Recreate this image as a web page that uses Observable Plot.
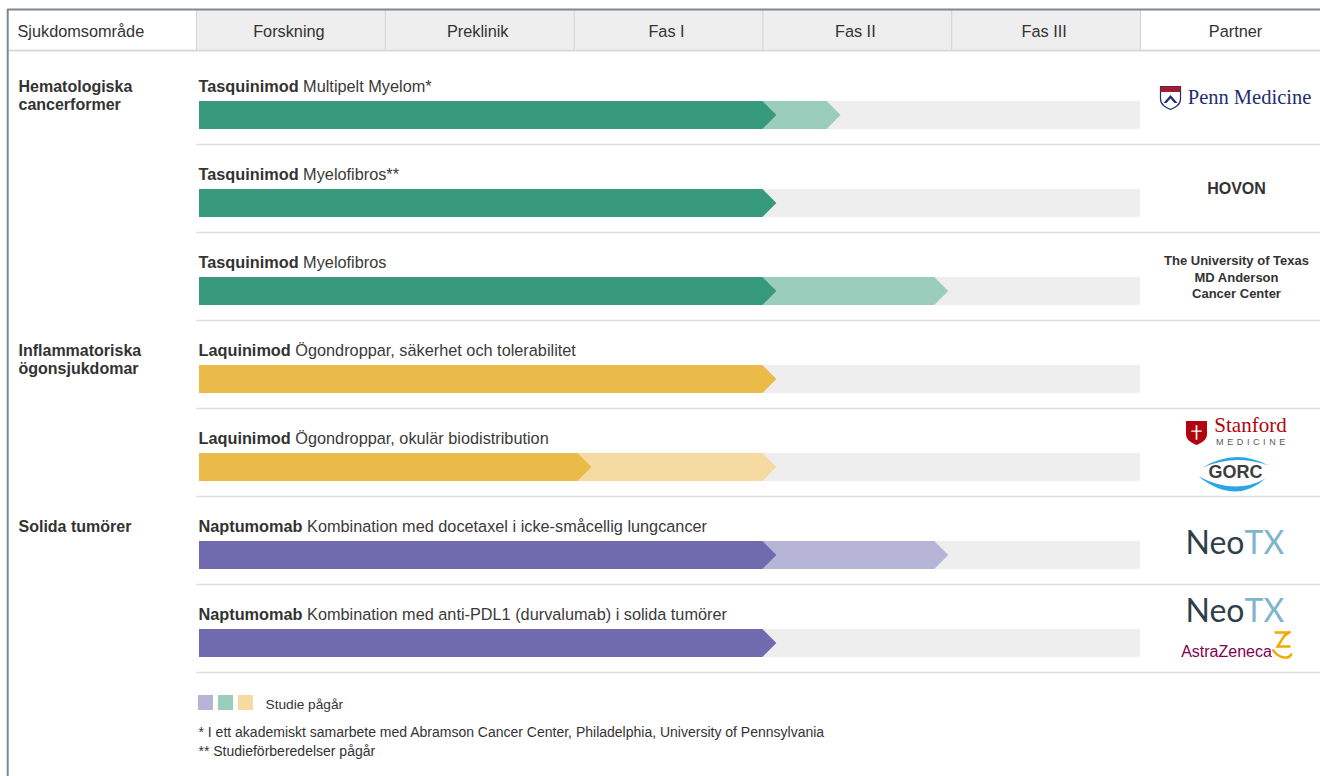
<!DOCTYPE html>
<html>
<head>
<meta charset="utf-8">
<script src="https://cdn.jsdelivr.net/npm/d3@7"></script>
<script src="https://cdn.jsdelivr.net/npm/@observablehq/plot@0.6"></script>
<style>
  body { margin: 0; background: #fff; }
  #chart svg { display: block; }
</style>
</head>
<body>
<div id="chart"></div>
<script>
// ---------------- DATA ----------------
const phases = ["Forskning", "Preklinik", "Fas I", "Fas II", "Fas III"];
const areaNames = [["Hematologiska", "cancerformer"], ["Inflammatoriska", "ögonsjukdomar"], ["Solida tumörer"]];
const areaRows = [0, 3, 5];
const drugs = ["Tasquinimod", "Tasquinimod", "Tasquinimod", "Laquinimod", "Laquinimod", "Naptumomab", "Naptumomab"];
const indications = [
  "Multipelt Myelom*",
  "Myelofibros**",
  "Myelofibros",
  "Ögondroppar, säkerhet och tolerabilitet",
  "Ögondroppar, okulär biodistribution",
  "Kombination med docetaxel i icke-småcellig lungcancer",
  "Kombination med anti-PDL1 (durvalumab) i solida tumörer"
];
const groups = ["hem", "hem", "hem", "eye", "eye", "solid", "solid"];
const completed = [3, 3, 3, 3, 2.02, 3, 3];          // phase units reached (solid part)
const ongoing = [3.34, null, 3.91, null, 3.0, 3.91, null]; // ongoing study reaches (light part)
const partners = [
  ["Penn Medicine"],
  ["HOVON"],
  ["The University of Texas\nMD Anderson\nCancer Center"],
  [],
  ["Stanford Medicine", "GORC"],
  ["NeoTX"],
  ["NeoTX", "AstraZeneca"]
];
const headerFirst = "Sjukdomsområde";
const headerLast = "Partner";
const legendLabel = "Studie pågår";
const footnotes = [
  "* I ett akademiskt samarbete med Abramson Cancer Center, Philadelphia, University of Pennsylvania",
  "** Studieförberedelser pågår"
];

// ---------------- STYLE ----------------
const dark = {hem: "#379a7c", eye: "#eabb48", solid: "#6f6bae"};
const light = {hem: "#9bcdbc", eye: "#f5dba1", solid: "#b6b4d7"};
const SANS = "'Liberation Sans', Arial, Helvetica, sans-serif";
const SERIF = "'Liberation Serif', 'Times New Roman', serif";
const THIN = "Lato, 'Open Sans', sans-serif";
const TXT = "#333333";
const FS = 16.3;

// layout helpers (x in phase units, y in row units)
const X0 = 196, PX = (1140 - 196) / 5, Y0 = 56, PY = 88;
const ux = p => (p - X0) / PX;
const uy = p => (p - Y0) / PY;
const dxu = p => p / PX;
const dyu = p => p / PY;

const BAR_TOP = 45 / PY, BAR_BOT = 73 / PY, BAR_MID = (BAR_TOP + BAR_BOT) / 2;
const TIP = dxu(14), BAR_X0 = dxu(3);
const TITLE_DY = 30 / PY;
const HEAD_TOP = uy(9), HEAD_BOT = uy(50), HEAD_MID = uy(31);
const RIGHT = ux(1330);
const PARTNER_X = ux(1236);

const ctx = document.createElement("canvas").getContext("2d");
function textW(str, weight, size) { ctx.font = `${weight} ${size}px ${SANS}`; return ctx.measureText(str).width; }

const rows = drugs.map((drug, i) => ({row: i, drug, indication: indications[i], group: groups[i], done: completed[i], ongoing: ongoing[i]}));

// chevron segments
const segs = [];
rows.forEach(r => { if (r.ongoing != null) segs.push({id: "l" + r.row, row: r.row, x1: r.done, x2: r.ongoing, color: light[r.group]}); });
rows.forEach(r => segs.push({id: "d" + r.row, row: r.row, x1: BAR_X0, x2: r.done, color: dark[r.group]}));
const chevronPts = segs.flatMap(s => [
  {id: s.id, y: s.row + BAR_TOP, x1: s.x1, x2: s.x2, color: s.color},
  {id: s.id, y: s.row + BAR_MID, x1: s.x1, x2: s.x2 + TIP, color: s.color},
  {id: s.id, y: s.row + BAR_BOT, x1: s.x1, x2: s.x2, color: s.color}
]);

const areaLines = areaNames.flatMap((lines, i) => lines.map((t, j) => ({t, y: areaRows[i] + TITLE_DY + dyu(18 * j)})));

// custom symbols
const rOf = size => Math.sqrt(size / Math.PI);
const shieldSym = {draw(c, size) { const r = rOf(size);
  c.moveTo(-r, -1.1 * r); c.lineTo(r, -1.1 * r); c.lineTo(r, 0.15 * r);
  c.bezierCurveTo(r, 0.75 * r, 0.45 * r, 1.0 * r, 0, 1.2 * r);
  c.bezierCurveTo(-0.45 * r, 1.0 * r, -r, 0.75 * r, -r, 0.15 * r); c.closePath(); }};
const bandSym = {draw(c, size) { const r = rOf(size); c.rect(-r, -1.1 * r, 2 * r, 0.55 * r); }};
const chevSym = {draw(c, size) { const r = rOf(size);
  c.moveTo(-0.7 * r, 0.55 * r); c.lineTo(0, -0.25 * r); c.lineTo(0.7 * r, 0.55 * r);
  c.lineTo(0.4 * r, 0.55 * r); c.lineTo(0, 0.1 * r); c.lineTo(-0.4 * r, 0.55 * r); c.closePath(); }};
const treeSym = {draw(c, size) { const r = rOf(size);
  c.rect(-0.08 * r, -0.7 * r, 0.16 * r, 1.4 * r); c.rect(-0.5 * r, -0.2 * r, 1.0 * r, 0.14 * r); }};
const eyeSym = {draw(c) {
  c.moveTo(-33, -5); c.quadraticCurveTo(0, -25, 33, -7); c.quadraticCurveTo(0, -19, -33, -5); c.closePath();
  c.moveTo(-37, 4); c.quadraticCurveTo(0, 33, 30, 6); c.quadraticCurveTo(0, 23, -37, 4); c.closePath(); }};
const azSym = {draw(c) {
  c.moveTo(-7, -13); c.lineTo(5, -13); c.lineTo(-4, 1); c.lineTo(9, 1);
  c.moveTo(-9, 4); c.bezierCurveTo(-2, 14, 8, 14, 10, 8);
  c.moveTo(2, -9); c.lineTo(9, -14); }};

// partner logos (text items + symbol items), offsets in px relative to logo center
function logo(name) {
  switch (name) {
    case "Penn Medicine": return {
      texts: [{text: "Penn Medicine", dx: 13, dy: -3, font: SERIF, size: 20.5, weight: "normal", color: "#1f2d6e"}],
      syms: [{sym: shieldSym, r: 10, dx: -66, dy: -3, fill: "#fff", stroke: "#1f2d6e"},
             {sym: bandSym, r: 10, dx: -66, dy: -3, fill: "#a51c30"},
             {sym: chevSym, r: 10, dx: -66, dy: -3, fill: "#1f2d6e"}]};
    case "HOVON": return {texts: [{text: name, dx: 0, dy: 0, font: SANS, size: 16, weight: "bold", color: TXT}], syms: []};
    case "Stanford Medicine": return {
      texts: [{text: "Stanford", dx: 14, dy: -7, font: SERIF, size: 21, weight: "normal", color: "#b1040e"},
              {text: "MEDICINE", dx: 16, dy: 10, font: SANS, size: 9, weight: "normal", color: "#58595b", ls: true}],
      syms: [{sym: shieldSym, r: 10.5, dx: -40, dy: 0, fill: "#b1040e"},
             {sym: treeSym, r: 10.5, dx: -40, dy: 0, fill: "#fff"}]};
    case "GORC": return {
      texts: [{text: "GORC", dx: -1, dy: 0, font: SANS, size: 18, weight: "bold", color: "#3d3d3d"}],
      syms: [{sym: eyeSym, r: 10, dx: -1, dy: 0, fill: "#2aa6e8"}]};
    case "NeoTX": return {
      texts: [{text: "Neo", dx: 8, dy: 3, font: THIN, size: 32, weight: "normal", color: "#2f3e4b", anchor: "end"},
              {text: "TX", dx: 8, dy: 3, font: THIN, size: 32, weight: "normal", color: "#7db5cb", anchor: "start"}],
      syms: []};
    case "AstraZeneca": return {
      texts: [{text: "AstraZeneca", dx: -10, dy: 3, font: SANS, size: 16, weight: "normal", color: "#830051"}],
      syms: [{sym: azSym, r: 10, dx: 45, dy: -3, fill: "none", stroke: "#f0ab00", sw: 2.4}]};
    default: return {texts: [{text: name, dx: 0, dy: 0, font: SANS, size: 13, weight: "bold", color: TXT, lh: 16.5 / 13}], syms: []};
  }
}
const pTexts = [], pSyms = [];
partners.forEach((names, row) => {
  const offs = names.length === 2 ? [-20, 20] : [0];
  names.forEach((name, k) => {
    const L = logo(name);
    const cy = row + 0.5 + dyu(offs[k]);
    L.texts.forEach(t => pTexts.push({...t, x: PARTNER_X + dxu(t.dx), y: cy + dyu(t.dy)}));
    L.syms.forEach(s => pSyms.push({...s, x: PARTNER_X + dxu(s.dx), y: cy + dyu(s.dy)}));
  });
});

const legendColors = [light.solid, light.hem, light.eye];

// ---------------- MARKS ----------------
const marks = [
  // header
  Plot.rect([0], {x1: -1, x2: 0, y1: HEAD_TOP, y2: HEAD_BOT, fill: "#ffffff"}),
  Plot.rect(phases, {x1: (d, i) => i, x2: (d, i) => i + 1, y1: HEAD_TOP, y2: HEAD_BOT, fill: "#eeeeee"}),
  Plot.ruleX(d3.range(0, 6), {y1: HEAD_TOP, y2: HEAD_BOT, stroke: "#d2d2d2", strokeWidth: 1}),
  Plot.ruleY([HEAD_BOT], {x1: -1, x2: RIGHT, stroke: "#d9d9d9", strokeWidth: 2}),
  Plot.ruleY([HEAD_TOP], {x1: -1, x2: RIGHT, stroke: "#7f878f", strokeWidth: 2}),
  Plot.ruleX([-1], {y1: HEAD_TOP, y2: uy(800), stroke: "#7f878f", strokeWidth: 2}),
  Plot.text(phases, {x: (d, i) => i + 0.5, y: HEAD_MID, text: d => d, fontSize: FS, fill: TXT, lineAnchor: "middle", dx: -2}),
  Plot.text([headerFirst], {x: ux(17), y: HEAD_MID, text: d => d, fontSize: FS, fill: TXT, textAnchor: "start", lineAnchor: "middle"}),
  Plot.text([headerLast], {x: ux(1235), y: HEAD_MID, text: d => d, fontSize: FS, fill: TXT, lineAnchor: "middle"}),

  // row separators
  Plot.ruleY(d3.range(1, 8), {x1: 0, x2: RIGHT, stroke: "#dedede", strokeWidth: 1.5}),

  // category labels
  Plot.text(areaLines, {x: ux(18), y: "y", text: "t", fontSize: 16, fontWeight: "bold", fill: TXT, textAnchor: "start", lineAnchor: "middle"}),

  // bars
  Plot.rect(rows, {x1: BAR_X0, x2: 5, y1: d => d.row + BAR_TOP, y2: d => d.row + BAR_BOT, fill: "#eeeeee"}),
  Plot.areaX(chevronPts, {y: "y", x1: "x1", x2: "x2", z: "id", fill: "color", curve: "linear"}),

  // row titles
  Plot.text(rows, {x: ux(198), y: d => d.row + TITLE_DY, text: "drug", fontSize: FS, fontWeight: "bold", fill: TXT, textAnchor: "start", lineAnchor: "middle"}),
  Plot.text(rows, {x: d => ux(198) + dxu(textW(d.drug, "bold", FS) + textW(" ", "normal", FS)), y: d => d.row + TITLE_DY, text: "indication", fontSize: FS, fill: "#3a3a3a", textAnchor: "start", lineAnchor: "middle"}),

  // partner symbols
  ...pSyms.map(s => Plot.dot([s], {x: "x", y: "y", r: s.r, symbol: s.sym, fill: s.fill, stroke: s.stroke || "none", strokeWidth: s.sw || 1.2})),
  // partner texts
  ...pTexts.map(t => Plot.text([t], {x: "x", y: "y", text: "text", fontFamily: t.font, fontSize: t.size, fontWeight: t.weight, fill: t.color, textAnchor: t.anchor || "middle", lineAnchor: "middle", lineHeight: t.lh || 1})),

  // legend
  Plot.rect(legendColors, {x1: (d, i) => ux(198) + dxu(20 * i), x2: (d, i) => ux(198) + dxu(20 * i + 15), y1: uy(695), y2: uy(710), fill: d => d}),
  Plot.text([legendLabel], {x: ux(265), y: uy(704), text: d => d, fontSize: 13.7, fill: TXT, textAnchor: "start", lineAnchor: "middle"}),

  // footnotes
  Plot.text(footnotes, {x: ux(198), y: (d, i) => uy(732) + dyu(19 * i), text: d => d, fontSize: 14, fill: TXT, textAnchor: "start", lineAnchor: "middle"})
];

const chart = Plot.plot({
  width: 1320, height: 776,
  marginTop: 0, marginRight: 0, marginBottom: 0, marginLeft: 0,
  x: {domain: [0, 5], range: [196, 1140], axis: null},
  y: {domain: [0, 7], range: [56, 672], axis: null},
  color: {type: "identity"},
  style: {fontFamily: SANS, background: "#ffffff", overflow: "visible"},
  marks
});
d3.select(chart).selectAll("text").filter(function () { return this.textContent === "MEDICINE"; }).attr("letter-spacing", "3.6px");
document.getElementById("chart").appendChild(chart);
</script>
</body>
</html>
